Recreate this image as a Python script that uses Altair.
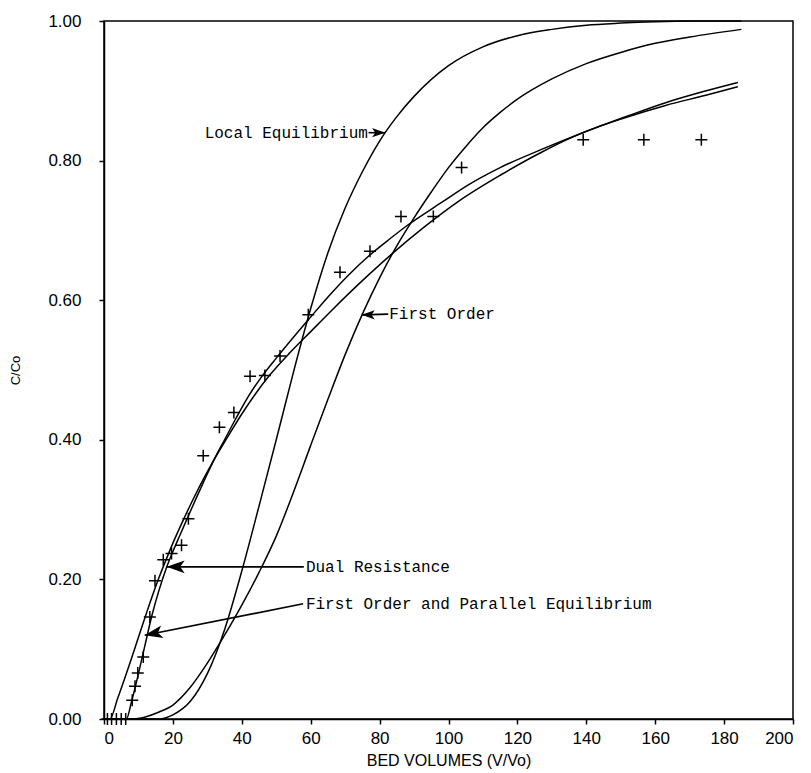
import altair as alt
import pandas as pd

# ---- curves ----
le_x = [0, 16, 20, 25, 30, 35, 40, 45, 50, 55, 60, 65, 70, 75, 80, 85, 90, 100, 110, 120, 130, 140, 150, 160, 170, 185]
le_y = [0, 0, 0.006, 0.025, 0.065, 0.128, 0.212, 0.305, 0.4, 0.497, 0.588, 0.668, 0.732, 0.784, 0.828, 0.863, 0.892, 0.936, 0.963, 0.979, 0.988, 0.994, 0.997, 0.999, 1.0, 1.0]

fo_x = [0, 8, 12, 16, 20, 25, 30, 35, 40, 45, 50, 55, 60, 65, 70, 75, 80, 85, 90, 95, 100, 105, 110, 115, 120, 130, 140, 150, 160, 170, 185]
fo_y = [0, 0, 0.003, 0.01, 0.02, 0.045, 0.08, 0.12, 0.163, 0.21, 0.262, 0.325, 0.392, 0.458, 0.522, 0.58, 0.632, 0.678, 0.718, 0.755, 0.79, 0.82, 0.847, 0.869, 0.888, 0.917, 0.939, 0.955, 0.968, 0.977, 0.988]

dr_x = [0, 6.5, 8, 10, 12, 14, 16, 18, 20, 22, 24.4, 27, 29.5, 32, 35, 38, 42, 46, 50, 55, 60, 66, 71, 77, 83, 88, 98, 106, 115, 127, 139, 151, 163, 174, 184]
dr_y = [0, 0, 0.025, 0.065, 0.108, 0.15, 0.185, 0.215, 0.24, 0.263, 0.29, 0.319, 0.346, 0.372, 0.4, 0.428, 0.463, 0.492, 0.517, 0.547, 0.576, 0.61, 0.636, 0.664, 0.688, 0.707, 0.74, 0.766, 0.79, 0.816, 0.84, 0.862, 0.883, 0.899, 0.912]

fope_x = [0, 1.7, 4, 6, 8, 10, 12, 14, 16, 18, 20, 23, 26.2, 29, 32, 36, 40, 44, 48, 54, 60, 66, 75, 83.5, 93, 103, 115, 127, 139, 151, 163, 175, 184]
fope_y = [0, 0, 0.03, 0.058, 0.087, 0.117, 0.147, 0.176, 0.203, 0.228, 0.252, 0.285, 0.318, 0.345, 0.372, 0.405, 0.437, 0.466, 0.492, 0.525, 0.555, 0.585, 0.628, 0.666, 0.705, 0.742, 0.779, 0.812, 0.84, 0.861, 0.879, 0.894, 0.906]

# ---- measured points ----
obs_x = [1, 2.2, 3.6, 5, 6.3, 8.2, 9.0, 9.8, 11.4, 13.3, 14.8, 17.2, 19.6, 22.5, 24.5, 28.8, 33.5, 37.7, 42.4, 46.7, 51.1, 59.3, 68.5, 77.2, 86.2, 95.6, 103.8, 139.1, 156.7, 173.4]
obs_y = [0, 0, 0, 0, 0, 0.027, 0.047, 0.066, 0.089, 0.146, 0.198, 0.228, 0.237, 0.249, 0.287, 0.377, 0.418, 0.439, 0.491, 0.492, 0.52, 0.579, 0.64, 0.67, 0.72, 0.72, 0.79, 0.83, 0.83, 0.83]

# ---- annotations ----
ann_text = ["Local Equilibrium", "First Order", "Dual Resistance", "First Order and Parallel Equilibrium"]
ann_x = [76.6, 82.8, 58.6, 58.6]
ann_y = [0.84, 0.58, 0.218, 0.165]
arrow_x = [76.8, 82.5, 58.0, 57.8]
arrow_y = [0.84, 0.58, 0.218, 0.165]
tip_x = [81.6, 74.8, 18.2, 11.8]
tip_y = [0.84, 0.579, 0.218, 0.12]
tip_angle = [180, 0, 0, 349]
tip_size = [170, 170, 324, 324]

rows = []
for name, xs, ys in [("Local Equilibrium", le_x, le_y), ("First Order", fo_x, fo_y),
                     ("Dual Resistance", dr_x, dr_y), ("First Order and Parallel Equilibrium", fope_x, fope_y)]:
    for i, (a, b) in enumerate(zip(xs, ys)):
        rows.append({"model": name, "x": a, "y": b, "order": i})
curves = pd.DataFrame(rows)
obs = pd.DataFrame({"x": obs_x, "y": obs_y})
ann = pd.DataFrame({"text": ann_text, "x": ann_x, "y": ann_y, "ax": arrow_x, "ay": arrow_y,
                    "tx": tip_x, "ty": tip_y, "angle": tip_angle, "size": tip_size})

xscale = alt.Scale(domain=[0, 200], nice=False)
yscale = alt.Scale(domain=[0, 1], nice=False)

xaxis = alt.Axis(values=list(range(0, 201, 20)), title="BED VOLUMES (V/Vo)", format="d",
                 labelPadding=6, titleY=41, titleBaseline="middle", titleFontSize=16)
yaxis = alt.Axis(values=[0, 0.2, 0.4, 0.6, 0.8, 1.0], format=".2f", title="C/Co",
                 labelPadding=18, titleX=-89, titleY=349, titleAngle=270,
                 titleBaseline="middle", titleAlign="center", titleFontSize=13)

lines = alt.Chart(curves).mark_line(color="black", strokeWidth=1.5, interpolate="monotone").encode(
    x=alt.X("x:Q", scale=xscale, axis=xaxis),
    y=alt.Y("y:Q", scale=yscale, axis=yaxis),
    detail="model:N",
    order="order:Q",
)

points = alt.Chart(obs).mark_point(shape="M-1,0L1,0M0,-1L0,1", size=144, filled=False,
                                   color="black", strokeWidth=1.5, opacity=1).encode(
    x=alt.X("x:Q", scale=xscale), y=alt.Y("y:Q", scale=yscale))

shafts = alt.Chart(ann).mark_rule(color="black", strokeWidth=1.6).encode(
    x=alt.X("ax:Q", scale=xscale), y=alt.Y("ay:Q", scale=yscale),
    x2="tx:Q", y2="ty:Q")

heads = alt.Chart(ann).mark_point(shape="M0,0L2,-0.7L1.5,0L2,0.7Z", filled=True, color="black",
                                  opacity=1).encode(
    x=alt.X("tx:Q", scale=xscale), y=alt.Y("ty:Q", scale=yscale),
    angle=alt.Angle("angle:Q", scale=None),
    size=alt.Size("size:Q", scale=None))

text_font = "Liberation Mono"
text_right = alt.Chart(ann.iloc[[0]]).mark_text(align="right", baseline="middle", font=text_font,
                                                 fontSize=16, color="black").encode(
    x=alt.X("x:Q", scale=xscale), y=alt.Y("y:Q", scale=yscale), text="text:N")
text_left = alt.Chart(ann.iloc[1:]).mark_text(align="left", baseline="middle", font=text_font,
                                               fontSize=16, color="black").encode(
    x=alt.X("x:Q", scale=xscale), y=alt.Y("y:Q", scale=yscale), text="text:N")

chart = alt.layer(lines, points, shafts, heads, text_right, text_left).properties(
    width=689, height=698,
    autosize=alt.AutoSizeParams(type="none"),
    padding={"left": 96, "top": 13, "right": 10, "bottom": 54},
    background="white",
).configure_view(stroke="black", strokeWidth=1.5).configure_axis(
    grid=False, labelFont="Liberation Sans", titleFont="Liberation Sans", labelFontSize=17,
    labelColor="black", titleColor="black", titleFontWeight="normal",
    domainColor="black", domainWidth=1.5, tickColor="black", tickWidth=1.5, tickSize=5,
)

chart.save("out.html", embed_options={"renderer": "svg", "actions": False})
